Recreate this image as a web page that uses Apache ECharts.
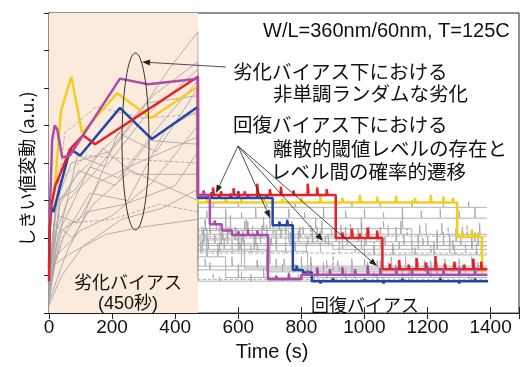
<!DOCTYPE html>
<html>
<head>
<meta charset="utf-8">
<script src="https://cdn.jsdelivr.net/npm/echarts@6/dist/echarts.min.js"></script>
<style>
html, body { margin: 0; padding: 0; background: #fff; }
#chart { width: 522px; height: 367px; }
</style>
</head>
<body>
<div id="chart"></div>
<script>
// stress phase ends (s)
let stressEnd = 472;
let xTicks = [0, 200, 400, 600, 800, 1000, 1200, 1400];

// coloured traces: stress points [t, dVth], recovery steps [t, level], recovery spikes [t, height]
let yellowStress = [[1, 2.4], [18, 3.3], [38, 5.4], [71, 6.3], [105, 4.8], [216, 5.86], [324, 5.2], [472, 6.04]];
let yellowSteps = [[472, 2.95], [1294, 2.03], [1373, 1.1], [1377, 1.1]];
let yellowSpikes = [[500, 0.08], [560, 0.12], [610, 0.1], [680, 0.15], [740, 0.1], [800, 0.12], [860, 0.18], [930, 0.12], [985, 0.2], [1040, 0.15], [1100, 0.18], [1160, 0.12], [1210, 0.2], [1250, 0.15], [1280, 0.12], [1310, 0.15], [1340, 0.2], [1360, 0.12]];

let redStress = [[0, 0.85], [2, 2.2], [8, 2.9], [20, 3.4], [40, 3.8], [67, 4.37], [108, 4.74], [146, 4.5], [472, 6.3]];
let redSteps = [[472, 3.15], [909, 2.0], [1057, 1.17], [1390, 1.17]];
let redSpikes = [[490, 0.12], [520, 0.2], [545, 0.1], [585, 0.18], [620, 0.1], [660, 0.3], [700, 0.15], [735, 0.22], [775, 0.12], [820, 0.3], [850, 0.2], [880, 0.15], [930, 0.15], [960, 0.25], [985, 0.12], [1010, 0.28], [1040, 0.2], [1080, 0.15], [1110, 0.25], [1140, 0.12], [1165, 0.3], [1195, 0.18], [1225, 0.35], [1255, 0.15], [1285, 0.2], [1315, 0.12], [1345, 0.28], [1370, 0.2]];

let blueStress = [[0, 1.2], [4, 2.86], [14, 2.7], [36, 3.4], [67, 4.37], [99, 4.2], [225, 5.47], [326, 4.64], [472, 5.5]];
let blueSteps = [[472, 3.07], [709, 2.34], [773, 1.15], [805, 1.08], [833, 0.85], [1392, 0.83]];
let blueSpikes = [[490, 0.1], [515, 0.15], [540, 0.08], [575, 0.12], [600, 0.18], [630, 0.1], [660, 0.14], [690, 0.1], [730, 0.1], [755, 0.15], [785, 0.12], [860, -0.06], [900, 0.08], [950, -0.05], [1000, 0.06], [1060, -0.06], [1120, 0.07], [1180, -0.05], [1240, 0.08], [1300, -0.06], [1350, 0.07]];

let purpleStress = [[2, 2.5], [10, 4.6], [18, 5.0], [26, 4.9], [42, 4.15], [66, 4.2], [225, 6.25], [314, 6.1], [472, 6.25]];
let purpleSteps = [[472, 3.12], [510, 2.37], [548, 2.2], [580, 2.08], [694, 0.9], [800, 1.02], [1390, 1.02]];
let purpleSpikes = [[490, 0.12], [525, 0.1], [600, 0.1], [630, 0.15], [660, 0.12], [720, 0.1], [760, 0.15], [820, 0.12], [850, 0.2], [890, 0.15], [930, 0.2], [970, 0.15], [1010, 0.25], [1050, 0.18], [1100, 0.2], [1150, 0.15], [1200, 0.22], [1250, 0.18], [1300, 0.2], [1350, 0.15]];

// grey devices
let grayStress = [
    [[0, 0.3], [15, 2.0], [60, 3.0], [150, 3.8], [260, 5.0], [380, 6.5], [472, 7.5]],
    [[0, 0.6], [20, 2.8], [80, 3.6], [200, 4.6], [330, 5.8], [472, 6.7]],
    [[0, 0.4], [25, 1.8], [90, 4.2], [180, 3.9], [300, 5.2], [472, 6.5]],
    [[0, 1.0], [30, 3.5], [120, 4.2], [260, 4.1], [472, 4.0]],
    [[0, 0.5], [40, 2.2], [110, 2.6], [220, 4.8], [340, 4.3], [472, 6.0]],
    [[0, 0.2], [35, 3.2], [70, 4.0], [190, 4.3], [310, 5.6], [472, 5.8]],
    [[0, 0.8], [45, 2.0], [130, 3.2], [250, 3.0], [370, 4.9], [472, 5.4]],
    [[0, 1.2], [50, 4.8], [150, 5.5], [300, 5.2], [472, 5.3]],
    [[0, 0.4], [20, 1.5], [100, 2.2], [200, 2.6], [330, 3.5], [472, 5.0]],
    [[0, 0.7], [30, 2.6], [90, 2.4], [160, 3.5], [280, 4.0], [472, 4.7]],
    [[0, 0.3], [55, 1.6], [120, 2.7], [240, 2.9], [400, 3.4], [472, 4.3]],
    [[0, 0.9], [60, 2.4], [200, 2.5], [350, 2.9], [472, 2.7]],
    [[0, 0.5], [25, 3.0], [85, 3.3], [170, 4.4], [270, 3.7], [472, 3.7]],
    [[0, 0.2], [40, 1.0], [110, 1.8], [230, 2.5], [360, 2.8], [472, 3.3]],
    [[0, 0.6], [15, 2.4], [75, 2.0], [140, 2.9], [260, 3.8], [472, 3.0]],
    [[0, 1.0], [35, 2.9], [95, 3.8], [210, 3.4], [320, 4.6], [472, 4.5]],
    [[0, 0.4], [28, 2.1], [130, 3.9], [220, 3.6], [350, 5.0], [472, 6.2]],
    [[0, 0.3], [18, 1.3], [70, 1.6], [180, 2.1], [300, 2.3], [472, 2.5]]
];
let grayDashed = [3, 7, 11];
let graySteps = [
    [[472, 2.53], [1388, 0]],
    [[472, 2.82], [1388, 0]],
    [[472, 2.2], [760, 1.9], [1388, 0]],
    [[472, 2.05], [1388, 0]],
    [[472, 1.95], [620, 1.2], [1388, 0]],
    [[472, 1.85], [900, 1.7], [1388, 0]],
    [[472, 1.7], [690, 1.1], [1388, 0]],
    [[472, 1.6], [1388, 0]],
    [[472, 1.5], [560, 0.95], [1388, 0]],
    [[472, 2.1], [1388, 0]],
    [[472, 1.25], [1388, 0]],
    [[472, 0.9], [1388, 0]],
    [[472, 2.0], [1000, 1.55], [1388, 0]],
    [[472, 1.8], [1388, 0]],
    [[472, 1.15], [1388, 0]],
    [[472, 2.25], [1150, 1.8], [1388, 0]],
    [[472, 1.65], [820, 1.0], [1388, 0]],
    [[472, 0.85], [1388, 0]]
];
let graySpikes = [
    [[500, 0.2], [560, 0.25], [610, 0.15], [655, 0.3], [700, 0.2], [760, 0.25], [810, 0.15], [870, 0.3], [940, 0.2], [1000, 0.25], [1060, 0.15], [1120, 0.3], [1180, 0.2], [1240, 0.25], [1300, 0.2], [1350, 0.3]],
    [[520, 0.1], [600, 0.15], [690, 0.1], [780, 0.12], [960, 0.15], [1050, 0.1], [1150, 0.18], [1250, 0.12], [1330, 0.15]],
    [[495, 0.3], [530, 0.2], [575, 0.4], [620, 0.25], [680, 0.35], [730, 0.2], [790, 0.3], [850, 0.4], [910, 0.2], [980, 0.35], [1040, 0.25], [1100, 0.4], [1170, 0.2], [1230, 0.3], [1290, 0.35], [1350, 0.25]],
    [[485, 0.25], [540, 0.35], [595, 0.2], [610, -0.8], [645, 0.3], [710, 0.4], [770, 0.25], [830, 0.3], [895, 0.2], [955, 0.35], [1015, 0.25], [1075, 0.3], [1135, 0.2], [1195, 0.35], [1265, 0.25], [1325, 0.3]],
    [[500, 0.3], [550, 0.2], [590, 0.35], [660, 0.2], [720, 0.25], [800, 0.3], [880, 0.2], [960, 0.25], [1040, 0.2], [1130, 0.3], [1210, 0.2], [1300, 0.25]],
    [[490, 0.35], [525, 0.25], [565, 0.4], [615, 0.3], [670, 0.2], [720, 0.35], [775, 0.25], [835, 0.4], [875, 0.2], [930, 0.3], [990, 0.25], [1050, 0.35], [1110, 0.2], [1170, 0.3], [1230, 0.4], [1280, 0.25], [1340, 0.3]],
    [[505, 0.25], [555, 0.3], [605, 0.2], [650, 0.35], [740, 0.2], [830, 0.25], [920, 0.15], [1010, 0.25], [1100, 0.2], [1190, 0.3], [1280, 0.2], [1360, 0.25]],
    [[480, 0.3], [535, 0.25], [580, 0.35], [640, 0.2], [695, 0.3], [750, 0.4], [815, 0.25], [860, 0.3], [900, -0.5], [920, 0.35], [970, 0.2], [1030, 0.3], [1090, 0.25], [1150, 0.35], [1210, 0.2], [1270, 0.3], [1320, 0.25], [1370, 0.3]],
    [[500, 0.3], [535, 0.2], [600, 0.2], [680, 0.25], [760, 0.15], [850, 0.2], [940, 0.25], [1030, 0.15], [1120, 0.2], [1210, 0.25], [1300, 0.15]],
    [[510, 0.3], [570, 0.2], [630, 0.35], [690, 0.25], [750, 0.3], [805, 0.2], [865, 0.35], [925, 0.25], [990, 0.3], [1050, 0.2], [1115, 0.35], [1175, 0.25], [1245, 0.3], [1310, 0.2], [1365, 0.3]],
    [[495, 0.2], [580, 0.25], [660, 0.15], [745, 0.2], [830, 0.25], [915, 0.15], [1000, 0.2], [1085, 0.25], [1170, 0.15], [1255, 0.2], [1340, 0.25]],
    [[520, 0.15], [610, 0.2], [700, 0.1], [790, 0.15], [880, 0.2], [970, 0.1], [1060, 0.15], [1150, 0.2], [1240, 0.1], [1330, 0.15]],
    [[490, 0.25], [550, 0.3], [615, 0.2], [675, 0.35], [700, -0.7], [735, 0.25], [795, 0.3], [860, 0.2], [940, 0.3], [1030, 0.25], [1090, 0.3], [1160, 0.2], [1220, 0.35], [1285, 0.25], [1355, 0.3]],
    [[500, 0.2], [545, 0.35], [600, 0.25], [655, 0.3], [705, 0.2], [765, 0.35], [820, 0.25], [885, 0.3], [945, 0.2], [1005, 0.35], [1065, 0.25], [1125, 0.3], [1185, 0.2], [1250, 0.35], [1305, 0.25], [1360, 0.2]],
    [[510, 0.2], [600, 0.15], [690, 0.25], [780, 0.15], [870, 0.2], [960, 0.15], [1050, 0.25], [1140, 0.15], [1230, 0.2], [1320, 0.15]],
    [[495, 0.2], [560, 0.3], [625, 0.25], [700, 0.35], [770, 0.2], [845, 0.3], [910, 0.25], [990, 0.3], [1060, 0.2], [1120, 0.3], [1200, 0.25], [1270, 0.3], [1340, 0.2]],
    [[485, 0.3], [540, 0.25], [600, 0.35], [660, 0.2], [720, 0.3], [780, 0.25], [870, 0.2], [960, 0.15], [1050, 0.2], [1140, 0.15], [1230, 0.2], [1320, 0.15]],
    [[540, 0.12], [640, 0.18], [740, 0.1], [840, 0.15], [940, 0.12], [1040, 0.18], [1140, 0.1], [1240, 0.15], [1340, 0.12]]
];

let fontJa = '"Noto Sans CJK JP", sans-serif';
let fontEn = '"Liberation Sans", Arial, sans-serif';
let fontMix = '"Liberation Sans", "Noto Sans CJK JP", sans-serif';

function buildTrace(stress, steps, spikes, w) {
    let pts = stress.map(p => [p[0], p[1]]);
    for (let i = 0; i < steps.length - 1; i++) {
        let x0 = steps[i][0], x1 = steps[i + 1][0], lv = steps[i][1];
        pts.push([x0, lv]);
        spikes.filter(s => s[0] > x0 && s[0] + w < x1).forEach(s => {
            pts.push([s[0], lv], [s[0], lv + s[1]], [s[0] + w, lv + s[1]], [s[0] + w, lv]);
        });
        pts.push([x1, lv]);
    }
    return pts;
}

function arrow(x1, y1, x2, y2) {
    let a = Math.atan2(y2 - y1, x2 - x1), L = 8, W = 3;
    let bx = x2 - L * Math.cos(a), by = y2 - L * Math.sin(a);
    return [
        { type: 'line', z: 100, shape: { x1: x1, y1: y1, x2: bx, y2: by }, style: { stroke: '#222', lineWidth: 0.8 } },
        { type: 'polygon', z: 100, shape: { points: [[x2, y2], [bx - W * Math.sin(a), by + W * Math.cos(a)], [bx + W * Math.sin(a), by - W * Math.cos(a)]] }, style: { fill: '#222' } }
    ];
}

function label(text, x, y, size, font, align) {
    return {
        type: 'text', z: 100, x: x, y: y,
        style: { text: text, font: size + 'px ' + font, fill: '#111', align: align || 'left', verticalAlign: 'middle' }
    };
}

let series = [];

// shaded stress window
series.push({
    type: 'line', data: [], z: 1, silent: true,
    markArea: {
        silent: true,
        itemStyle: { color: '#fcebdd' },
        data: [[{ xAxis: 0 }, { xAxis: stressEnd }]]
    }
});

grayStress.forEach((s, i) => {
    series.push({
        type: 'line', z: 2, silent: true, symbol: 'none',
        lineStyle: { color: '#a8a8a8', width: 0.9, type: grayDashed.indexOf(i) >= 0 ? 'dashed' : 'solid' },
        data: buildTrace(s, graySteps[i], graySpikes[i], 2)
    });
});

let colored = [
    [yellowStress, yellowSteps, yellowSpikes, '#f2cf1d'],
    [blueStress, blueSteps, blueSpikes, '#2146a6'],
    [redStress, redSteps, redSpikes, '#e52129'],
    [purpleStress, purpleSteps, purpleSpikes, '#a84ea8']
];
colored.forEach(c => {
    series.push({
        type: 'line', z: 3, silent: true, symbol: 'none',
        lineStyle: { color: c[3], width: 2.5 },
        data: buildTrace(c[0], c[1], c[2], 3)
    });
});

let graphics = [
    label('W/L=360nm/60nm, T=125C', 263, 31, 20, fontEn),
    label('劣化バイアス下における', 233, 72, 19.5, fontJa),
    label('非単調ランダムな劣化', 273, 94, 19.5, fontJa),
    label('回復バイアス下における', 233, 125, 19.5, fontJa),
    label('離散的閾値レベルの存在と', 273, 149, 19.5, fontJa),
    label('レベル間の確率的遷移', 271, 172, 19.5, fontJa),
    label('劣化バイアス', 128, 282, 18, fontJa, 'center'),
    label('(450秒)', 128, 304, 18, fontMix, 'center'),
    label('回復バイアス', 365, 305, 18, fontJa, 'center'),
    {
        type: 'ellipse', z: 100,
        shape: { cx: 135.5, cy: 141.5, rx: 13.5, ry: 88.5 },
        style: { fill: 'none', stroke: '#333', lineWidth: 1 }
    }
].concat(
    arrow(226, 67, 142, 62),
    arrow(238, 146, 216, 193),
    arrow(238, 146, 270, 218),
    arrow(238, 146, 323, 241),
    arrow(238, 146, 377, 266)
);

let axisLine = { show: true, lineStyle: { color: '#222', width: 1 } };
let tickIn = { show: true, inside: true, length: 6, lineStyle: { color: '#222' } };

let option = {
    animation: false,
    grid: { left: 49, right: 2, top: 13, bottom: 47, show: true, borderColor: '#222', borderWidth: 1 },
    xAxis: [
        {
            type: 'value', min: 0, max: 1490, interval: 200,
            name: 'Time (s)', nameLocation: 'middle', nameGap: 26,
            nameTextStyle: { fontSize: 20, fontFamily: fontEn, color: '#111', padding: [0, 24, 0, 0] },
            axisLine: axisLine, axisTick: tickIn, splitLine: { show: false },
            axisLabel: {
                fontSize: 19, fontFamily: fontEn, color: '#111', margin: 5,
                formatter: v => (xTicks.indexOf(v) >= 0 ? String(v) : '')
            }
        },
        {
            type: 'value', min: 0, max: 1490, interval: 200, position: 'top',
            axisLine: axisLine, axisTick: tickIn, axisLabel: { show: false }, splitLine: { show: false }
        }
    ],
    yAxis: [
        {
            type: 'value', min: 0, max: 8, interval: 1,
            name: 'しきい値変動 (a.u.)', nameLocation: 'middle', nameGap: 13,
            nameTextStyle: { fontSize: 18, fontFamily: fontJa, color: '#111', padding: [0, 12, 0, 0] },
            axisLine: axisLine, axisTick: { show: true, inside: true, length: 5, lineStyle: { color: '#222' } },
            axisLabel: { show: false }, splitLine: { show: false }
        },
        {
            type: 'value', min: 0, max: 8, interval: 1, position: 'right',
            axisLine: axisLine, axisTick: { show: true, inside: true, length: 5, lineStyle: { color: '#222' } },
            axisLabel: { show: false }, splitLine: { show: false }
        }
    ],
    series: series,
    graphic: graphics
};

let chart = echarts.init(document.getElementById('chart'), null, { renderer: 'canvas' });
chart.setOption(option);
</script>
</body>
</html>
